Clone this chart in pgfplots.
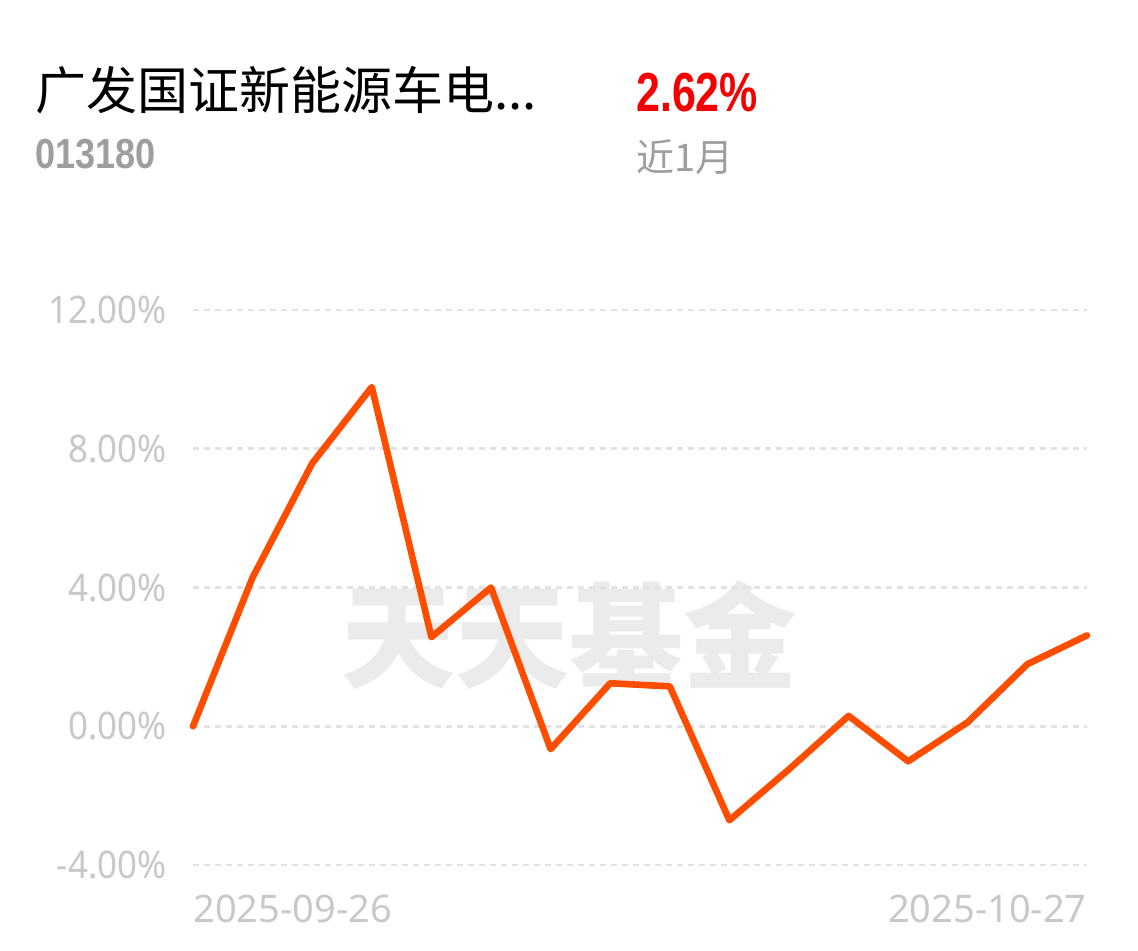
\documentclass[border=0pt]{standalone}
\usepackage{pgfplots}
\pgfplotsset{compat=1.18}
\usepackage{fontspec}
\setmainfont{Noto Sans}
\newfontfamily\cjk{Noto Sans CJK SC}
\newfontfamily\boldnum{Liberation Sans}
\definecolor{lineor}{HTML}{FF4D00}
\definecolor{tickgray}{HTML}{C8C8C8}
\definecolor{gridgray}{HTML}{E2E2E2}
\definecolor{wmgray}{HTML}{EBEBEB}
\definecolor{codegray}{HTML}{9E9E9E}
\definecolor{upred}{HTML}{F50000}
\pgfplotstableread{
x y
0 0
1 4.29
2 7.58
3 9.78
4 2.57
5 4.00
6 -0.66
7 1.24
8 1.15
9 -2.71
10 -1.24
11 0.30
12 -1.01
13 0.12
14 1.79
15 2.62
}\navdata
\begin{document}
\begin{tikzpicture}[x=0.5pt,y=0.5pt]
\path[fill=white] (0,0) rectangle (1138,950);
% header
\node[anchor=base west,inner sep=0,font=\cjk\fontsize{25.5}{25.5}\selectfont] at (35,840) {广发国证新能源车电...};
\node[anchor=base west,inner sep=0,text=codegray,font=\boldnum\bfseries\fontsize{21}{21}\selectfont,xscale=0.86] at (35,782) {013180};
\node[anchor=base west,inner sep=0,text=upred,font=\boldnum\bfseries\fontsize{27.5}{27.5}\selectfont,xscale=0.78] at (636,838) {2.62\%};
\node[anchor=base west,inner sep=0,text=codegray,font=\cjk\fontsize{19}{19}\selectfont] at (636,778) {近1月};
% watermark
\node[inner sep=0,text=wmgray,font=\cjk\bfseries\fontsize{57}{57}\selectfont] at (569,315) {天天基金};
\begin{axis}[at={(96.5pt,42.5pt)},anchor=south west,scale only axis,
  width=447pt,height=277.5pt,
  xmin=0,xmax=15,ymin=-4,ymax=12,
  axis line style={draw=none},
  xtick=\empty,
  ytick={-4,0,4,8,12},
  yticklabels={-4.00\%,0.00\%,4.00\%,8.00\%,12.00\%},
  major tick length=0pt,
  ymajorgrids,
  grid style={gridgray,line width=1.3pt,dash pattern=on 3pt off 2.5pt},
  yticklabel style={anchor=east,inner sep=0pt,xshift=-13pt,text=tickgray,
    font=\fontsize{19}{19}\selectfont,xscale=0.92},
  /pgf/number format/assume math mode=true,
  clip=false]
\addplot[lineor,line width=3.3pt,line join=round,line cap=round] table[x=x,y=y] {\navdata};
\node[anchor=base west,inner sep=0,text=tickgray,font=\fontsize{19}{19}\selectfont] at (axis cs:0,-4) [yshift=-42.5pt+14pt] {2025-09-26};
\node[anchor=base east,inner sep=0,text=tickgray,font=\fontsize{19}{19}\selectfont] at (axis cs:15,-4) [yshift=-42.5pt+14pt] {2025-10-27};
\end{axis}
\end{tikzpicture}
\end{document}
